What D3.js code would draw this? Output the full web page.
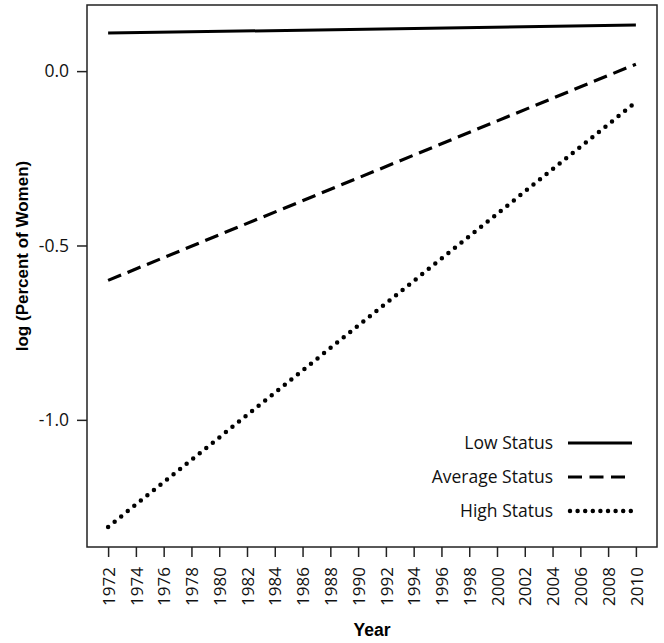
<!DOCTYPE html>
<html><head><meta charset="utf-8">
<script src="https://cdn.jsdelivr.net/npm/d3@7"></script>
<style>body{margin:0;background:#fff}</style>
</head><body>
<script>
const years = [1972, 2010];
const tickYears = d3.range(1972, 2011, 2);
const yTicks = [0.0, -0.5, -1.0];
const seriesNames = ["Low Status", "Average Status", "High Status"];
const lowStatus = [0.109, 0.132];
const averageStatus = [-0.600, 0.020];
const highStatus = [-1.307, -0.089];

const W = 664, H = 643;
const m = {left: 87, right: 657, top: 5, bottom: 547};
const svg = d3.select("body").append("svg").attr("width", W).attr("height", H);

const x = d3.scaleLinear().domain([1970.48, 2011.52]).range([m.left, m.right]);
const y = d3.scaleLinear().domain([-1.3646, 0.1896]).range([m.bottom, m.top]);

const styles = [
  {dash: null, width: 3, cap: "butt"},
  {dash: "14 7", width: 3.2, cap: "butt"},
  {dash: "0 8.4", width: 4.5, cap: "round"}
];
const data = [lowStatus, averageStatus, highStatus];

const line = d3.line().x((d,i) => x(years[i])).y(d => y(d));
data.forEach((s, k) => {
  svg.append("path").attr("d", line(s)).attr("fill","none").attr("stroke","#000")
    .attr("stroke-width", styles[k].width).attr("stroke-linecap", styles[k].cap)
    .attr("stroke-dasharray", styles[k].dash);
});

svg.append("rect").attr("x", m.left).attr("y", m.top).attr("width", m.right-m.left).attr("height", m.bottom-m.top)
  .attr("fill","none").attr("stroke","#222").attr("stroke-width",1.5);

const fontTick = "'Open Sans', 'Noto Sans', sans-serif";
const xAxis = svg.append("g").attr("transform", `translate(0,${m.bottom})`)
  .call(d3.axisBottom(x).tickValues(tickYears).tickFormat(d3.format("d")).tickSize(10).tickPadding(6));
xAxis.select(".domain").remove();
xAxis.selectAll("line").attr("stroke","#222").attr("stroke-width",1.5);
xAxis.selectAll("text").attr("font-family", fontTick).attr("font-size", 17).attr("fill","#111")
  .attr("transform","rotate(-90)").attr("text-anchor","end").attr("x",-20).attr("y",0).attr("dy","0.36em");

const fmtY = d => d3.format(".1f")(d).replace("\u2212", "-");
const yAxis = svg.append("g").attr("transform", `translate(${m.left},0)`)
  .call(d3.axisLeft(y).tickValues(yTicks).tickFormat(fmtY).tickSize(10).tickPadding(8));
yAxis.select(".domain").remove();
yAxis.selectAll("line").attr("stroke","#222").attr("stroke-width",1.5);
yAxis.selectAll("text").attr("font-family", fontTick).attr("font-size", 17.5).attr("fill","#111");

svg.append("text").attr("x", (m.left+m.right)/2).attr("y", 636).attr("text-anchor","middle")
  .attr("font-family","'Liberation Sans', Arial, sans-serif").attr("font-weight","bold").attr("font-size",17.5).text("Year");
svg.append("text").attr("transform", `translate(28,256) rotate(-90)`).attr("text-anchor","middle")
  .attr("font-family","'Liberation Sans', Arial, sans-serif").attr("font-weight","bold").attr("font-size",17).text("log (Percent of Women)");

const legY = [443, 477, 511];
seriesNames.forEach((n, k) => {
  svg.append("text").attr("x", 553).attr("y", legY[k]).attr("dy","0.35em").attr("text-anchor","end")
    .attr("font-family", fontTick).attr("font-size", 17.5).attr("fill","#111").text(n);
  svg.append("line").attr("x1", k===2 ? 570 : 568).attr("x2", 632).attr("y1", legY[k]).attr("y2", legY[k])
    .attr("stroke","#000").attr("stroke-width", styles[k].width).attr("stroke-linecap", styles[k].cap)
    .attr("stroke-dasharray", k===1 ? "14 7.5" : (k===2 ? "0 7.6" : null));
});
</script>
</body></html>
